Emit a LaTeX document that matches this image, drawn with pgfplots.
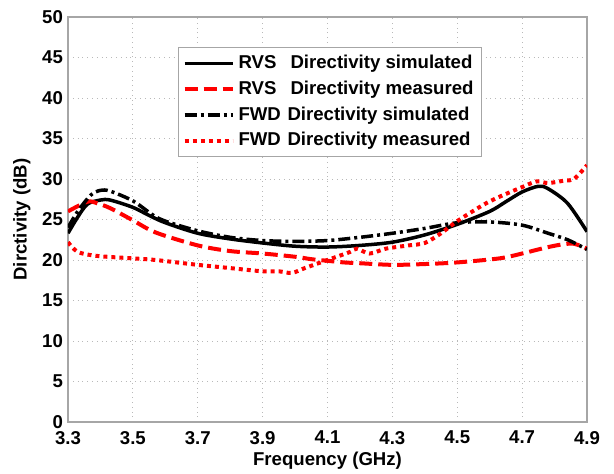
\documentclass[border=0pt]{standalone}
\usepackage{pgfplots}
\pgfplotsset{compat=1.18}
\usepackage{fontspec}
\setmainfont{Liberation Sans}
\usetikzlibrary{calc}
\begin{document}
\begin{tikzpicture}
\begin{axis}[
  scale only axis,
  width=259.5pt, height=202.5pt,
  xmin=3.3, xmax=4.9, ymin=0, ymax=50,
  xtick={3.3,3.5,...,4.9},
  xticklabels={3.3,3.5,3.7,3.9,4.1,4.3,4.5,4.7,4.9},
  ytick={0,5,...,50},
  /pgf/number format/assume math mode=true,
  tick label style={font=\fontsize{9.3}{10}\selectfont\bfseries},
  label style={font=\fontsize{9.3}{10}\selectfont\bfseries},
  xlabel={Frequency (GHz)},
  ylabel={Dirctivity (dB)},
  xlabel style={yshift=3pt},
  ylabel style={yshift=-1pt},
  major tick length=0pt,
  xticklabel style={yshift=-1pt},
  yticklabel style={xshift=1pt},
  grid=major,
  grid style={gray!55, dotted, line width=0.4pt},
  axis line style={gray!70, line width=0.6pt},
  legend style={at={(0.212,0.926)}, anchor=north west, draw=gray!70, line width=0.5pt,
    font=\fontsize{9.3}{10}\selectfont\bfseries, row sep=0.6pt, inner sep=2pt,
    cells={anchor=west}},
  legend cell align=left,
  legend image code/.code={\draw[#1] (0pt,0pt) -- (24pt,0pt);},
]
\addplot[black, line width=1.75pt, smooth] coordinates {
(3.30,23.3) (3.33,25.3) (3.36,26.9) (3.40,27.4) (3.43,27.4) (3.50,26.5) (3.55,25.5)
(3.60,24.6) (3.70,23.3) (3.80,22.6) (3.90,22.1) (4.00,21.7) (4.10,21.6) (4.20,21.8)
(4.30,22.2) (4.40,23.1) (4.50,24.4) (4.60,26.0) (4.65,27.2) (4.70,28.4) (4.75,29.1)
(4.78,28.8) (4.84,27.0) (4.90,23.5)};
\addlegendentry{\makebox[26pt][l]{RVS}Directivity simulated}
\addplot[red, line width=2pt, dash pattern=on 6.5pt off 3pt, smooth] coordinates {
(3.30,26.0) (3.36,27.2) (3.39,27.0) (3.43,26.4) (3.50,24.9) (3.57,23.4) (3.70,21.8)
(3.80,21.1) (3.90,20.8) (4.00,20.4) (4.05,20.1) (4.10,19.9) (4.15,19.7)
(4.20,19.6) (4.30,19.4) (4.40,19.5) (4.50,19.7) (4.63,20.2) (4.70,20.8) (4.77,21.5)
(4.82,21.9) (4.86,22.0) (4.90,21.4)};
\addlegendentry{\makebox[26pt][l]{RVS}Directivity measured}
\addplot[black, line width=1.75pt, dash pattern=on 6pt off 2pt on 1.5pt off 2pt, smooth] coordinates {
(3.30,24.0) (3.33,26.0) (3.37,28.0) (3.40,28.6) (3.43,28.5) (3.50,27.3) (3.56,25.6)
(3.60,24.8) (3.70,23.6) (3.80,22.8) (3.90,22.4) (4.00,22.3) (4.10,22.4) (4.20,22.8)
(4.30,23.3) (4.40,23.9) (4.50,24.6) (4.60,24.7) (4.70,24.3) (4.78,23.3) (4.84,22.5)
(4.90,21.3)};
\addlegendentry{\makebox[24.5pt][l]{FWD}Directivity simulated}
\addplot[red, line width=2pt, dash pattern=on 2pt off 2pt, smooth] coordinates {
(3.30,22.2) (3.33,21.0) (3.39,20.5) (3.50,20.2) (3.57,20.0) (3.70,19.4) (3.80,19.0)
(3.90,18.6) (3.95,18.6) (3.99,18.4) (4.03,19.0) (4.10,20.0) (4.17,21.0) (4.19,21.4)
(4.23,20.8) (4.28,21.4) (4.35,21.8) (4.40,22.1) (4.45,23.3) (4.50,24.8) (4.58,26.8)
(4.63,27.8) (4.70,29.0) (4.745,29.7) (4.78,29.5) (4.83,29.8) (4.86,30.0) (4.90,31.7)};
\addlegendentry{\makebox[24.5pt][l]{FWD}Directivity measured}
\end{axis}
\pgfresetboundingbox
\path[use as bounding box] ($(current axis.south west)+(-34pt,-26pt)$) rectangle ($(current axis.north east)+(13.5pt,8.5pt)$);
\end{tikzpicture}
\end{document}
